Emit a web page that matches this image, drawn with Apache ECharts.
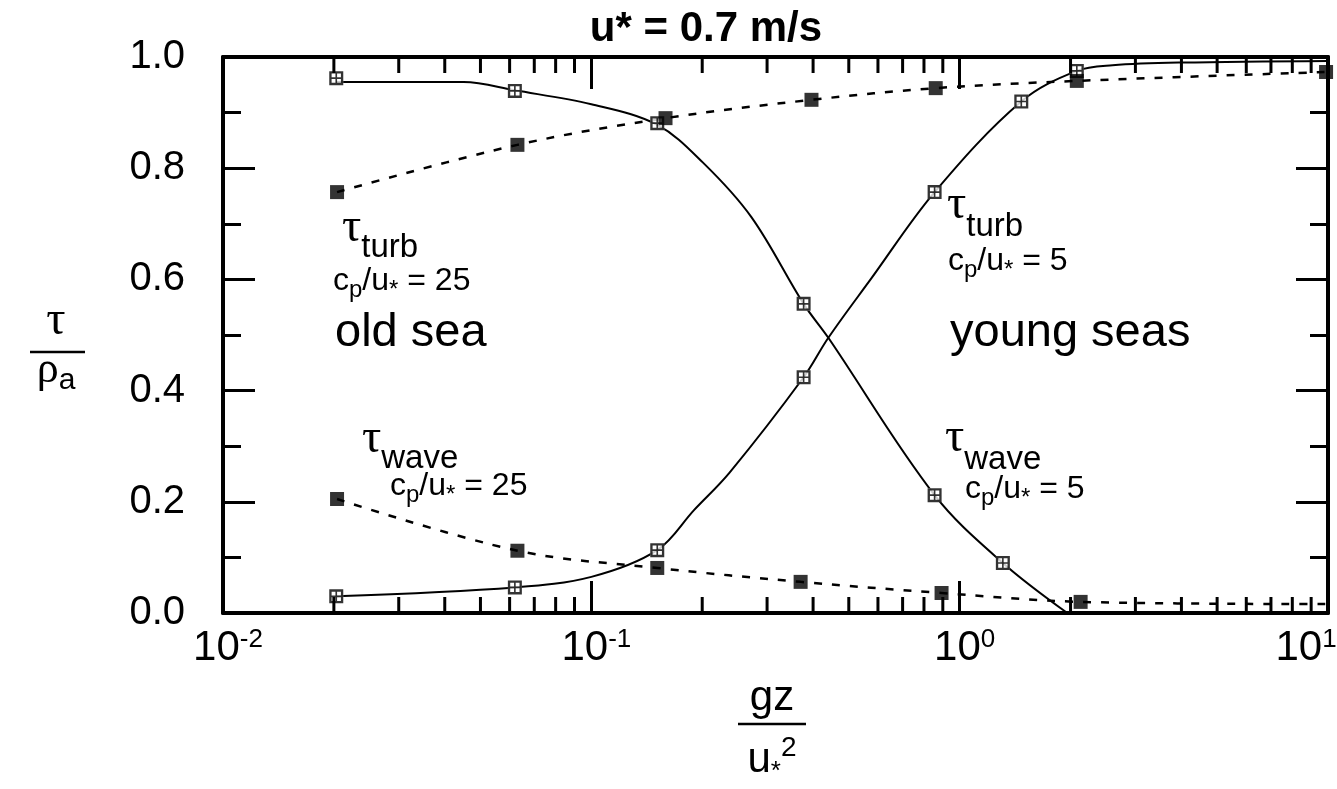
<!DOCTYPE html>
<html><head><meta charset="utf-8">
<script src="https://cdn.jsdelivr.net/npm/echarts@6/dist/echarts.min.js"></script>
<style>html,body{margin:0;padding:0;background:#fff}#c{width:1337px;height:789px}</style>
</head><body><div id="c"></div>
<script>
// ---------- data ----------
// c_p/u* = 5 (hollow crossed squares, solid lines)
const turb5X = [0.0203, 0.062, 0.151, 0.377, 0.855, 1.47, 2.08];
const turb5Y = [0.030, 0.046, 0.113, 0.424, 0.757, 0.920, 0.975];
const wave5X = [0.0203, 0.062, 0.151, 0.377, 0.855, 1.31];
const wave5Y = [0.962, 0.939, 0.881, 0.556, 0.212, 0.090];
// fitted solid curves
const turb5CurveX = [0.0203, 0.062, 0.1, 0.151, 0.19, 0.237, 0.377, 0.44, 0.573, 0.855, 1.47, 2.08, 2.6, 4, 10];
const turb5CurveY = [0.030, 0.046, 0.065, 0.113, 0.185, 0.252, 0.424, 0.495, 0.600, 0.757, 0.920, 0.975, 0.985, 0.990, 0.993];
const wave5CurveX = [0.0203, 0.045, 0.062, 0.1, 0.151, 0.201, 0.272, 0.377, 0.44, 0.855, 1.31, 1.96];
const wave5CurveY = [0.955, 0.955, 0.940, 0.915, 0.878, 0.810, 0.712, 0.556, 0.495, 0.212, 0.090, 0.0];
// c_p/u* = 25 (filled squares, dashed lines)
const turb25X = [0.0204, 0.063, 0.159, 0.396, 0.861, 2.08, 9.88];
const turb25Y = [0.757, 0.842, 0.890, 0.923, 0.944, 0.957, 0.973];
const wave25X = [0.0204, 0.063, 0.151, 0.370, 0.893, 2.13];
const wave25Y = [0.205, 0.112, 0.081, 0.056, 0.036, 0.020];
const wave25LineX = [0.0204, 0.063, 0.151, 0.370, 0.893, 2.13, 10];
const wave25LineY = [0.205, 0.112, 0.081, 0.056, 0.036, 0.020, 0.016];
// axis ticks
const xMinorTicks = [0.02,0.03,0.04,0.05,0.06,0.07,0.08,0.09,
                     0.2,0.3,0.4,0.5,0.6,0.7,0.8,0.9,
                     2,3,4,5,6,7,8,9];

const zip = (xs, ys) => xs.map((x, i) => [x, ys[i]]);
const FONT = '"Liberation Sans", Arial, Helvetica, sans-serif';
const SERIF = '"Liberation Serif", "DejaVu Serif", serif';
const HOLLOW = 'path://M0 0H12V12H0Z M2 2V5.3H5.3V2Z M6.7 2V5.3H10V2Z M2 6.7V10H5.3V6.7Z M6.7 6.7V10H10V6.7Z';

const chart = echarts.init(document.getElementById('c'), null, {renderer: 'canvas'});

// text runs placed on a common baseline (sub/superscripts via dy)
const mctx = document.createElement('canvas').getContext('2d');
function tw(t, size, fam, weight) { mctx.font = (weight || 'normal') + ' ' + size + 'px ' + fam; return mctx.measureText(t).width; }
function run(x, baseline, tokens, align) {
  const toks = tokens.map(k => ({t: k[0], size: k[1], dy: k[2] || 0, fam: k[3] || FONT, w: k[4] || 'normal'}));
  let total = 0; toks.forEach(k => { k.width = tw(k.t, k.size, k.fam, k.w); total += k.width; });
  let cx = align === 'center' ? x - total / 2 : x;
  const out = [];
  toks.forEach(k => {
    out.push({type: 'text', x: cx, y: baseline + k.dy - 0.35 * k.size, z: 50, silent: true,
      style: {text: k.t, fontSize: k.size, fontFamily: k.fam, fontWeight: k.w, fill: '#000', align: 'left', verticalAlign: 'middle'}});
    cx += k.width;
  });
  return out;
}
const TAU = 48, SUB = 33, M = 32, S = 24;
const tauSub = (word, dy) => [['τ', TAU, 0, SERIF], [word, SUB, dy]];
const cpRun = (n) => [['c', M, 0], ['p', S, 7], ['/u', M, 0], ['*', S, 7], [' = ' + n, M, 0]];

const graphics = [].concat(
  run(706, 44, [['u* = 0.7 m/s', 42, 0, FONT, 'bold']], 'center'),
  run(342, 245, tauSub('turb', 14)),
  run(333, 292, cpRun(25)),
  run(335, 349, [['old sea', 47]]),
  run(362, 456, tauSub('wave', 14)),
  run(390, 497, cpRun(25)),
  run(947, 222, tauSub('turb', 16)),
  run(948, 272, cpRun(5)),
  run(950, 349, [['young seas', 47]]),
  run(945, 455, tauSub('wave', 16)),
  run(965, 500, cpRun(5)),
  // y-axis title: tau / rho_a
  run(56, 338, [['τ', 48, 0, SERIF]], 'center'),
  [{type: 'line', z: 50, silent: true, shape: {x1: 30, y1: 352, x2: 85, y2: 352}, style: {stroke: '#000', lineWidth: 2.5}}],
  run(56, 386, [['ρ', 44, 0, SERIF], ['a', 30, 5]], 'center'),
  // x-axis title: gz / u*^2
  run(772, 713, [['gz', 42]], 'center'),
  [{type: 'line', z: 50, silent: true, shape: {x1: 738, y1: 724, x2: 806, y2: 724}, style: {stroke: '#000', lineWidth: 2.5}}],
  run(772, 775, [['u', 42], ['*', 26, 6], ['2', 28, -17]], 'center')
);

const xAxisBase = {
  type: 'log', logBase: 10, min: 0.01, max: 10,
  axisLine: {show: true, onZero: false, lineStyle: {color: '#000', width: 4}},
  axisTick: {show: true, inside: true, length: 32, lineStyle: {color: '#000', width: 3}},
  splitLine: {show: false}, minorTick: {show: false}
};
const yAxisBase = {
  type: 'value', min: 0, max: 1, interval: 0.2,
  axisLine: {show: true, onZero: false, lineStyle: {color: '#000', width: 4}},
  axisTick: {show: true, inside: true, length: 32, lineStyle: {color: '#000', width: 3}},
  minorTick: {show: true, splitNumber: 2, length: 18, lineStyle: {color: '#000', width: 3}},
  splitLine: {show: false}
};

const option = {
  backgroundColor: '#fff',
  animation: false,
  grid: {left: 223, right: 9, top: 57, bottom: 176, containLabel: false, outerBoundsMode: 'none'},
  xAxis: [
    Object.assign({}, xAxisBase, {position: 'bottom',
      axisLabel: {show: true, margin: 14, hideOverlap: false, formatter: v => {
          const e = Math.round(Math.log10(v));
          return e >= 1 ? '{bl|10}{pl|' + e + '}' : '{b|10}{p|' + e + '}';
        },
        rich: {
          b: {fontSize: 42, lineHeight: 42, padding: [10, 0, 0, 10], verticalAlign: 'bottom', fontFamily: FONT, color: '#000'},
          p: {fontSize: 26, lineHeight: 26, verticalAlign: 'top', fontFamily: FONT, color: '#000'},
          bl: {fontSize: 42, lineHeight: 42, padding: [10, 0, 0, 0], verticalAlign: 'bottom', fontFamily: FONT, color: '#000'},
          pl: {fontSize: 26, lineHeight: 26, padding: [0, 44, 0, 0], verticalAlign: 'top', fontFamily: FONT, color: '#000'}
        }}}),
    Object.assign({}, xAxisBase, {position: 'top', axisLabel: {show: false}})
  ],
  yAxis: [
    Object.assign({}, yAxisBase, {position: 'left',
      axisLabel: {show: true, margin: 38, fontSize: 40, fontFamily: FONT, color: '#000',
        formatter: v => v.toFixed(1)}}),
    Object.assign({}, yAxisBase, {position: 'right', axisLabel: {show: false}})
  ],
  graphic: graphics,
  series: [
    {type: 'line', name: 'turb5 curve', data: zip(turb5CurveX, turb5CurveY), smooth: 0.35, showSymbol: false,
     symbol: 'none', lineStyle: {color: '#000', width: 2}, z: 2, silent: true, clip: false},
    {type: 'line', name: 'wave5 curve', data: zip(wave5CurveX, wave5CurveY), smooth: 0.35, showSymbol: false,
     symbol: 'none', lineStyle: {color: '#000', width: 2}, z: 2, silent: true, clip: false},
    {type: 'line', name: 'turb25', data: zip(turb25X, turb25Y), smooth: 0.35, symbol: 'none',
     lineStyle: {color: '#000', width: 2.5, type: [8, 10]}, z: 2, silent: true, clip: false},
    {type: 'line', name: 'wave25', data: zip(wave25LineX, wave25LineY), smooth: 0.35, symbol: 'none',
     lineStyle: {color: '#000', width: 2.5, type: [8, 10]}, z: 2, silent: true, clip: false},
    {type: 'scatter', data: zip(turb5X, turb5Y).concat(zip(wave5X, wave5Y)), symbol: 'rect', symbolSize: 14,
     itemStyle: {color: '#fff'}, z: 3, silent: true, clip: false},
    {type: 'scatter', name: 'turb5', data: zip(turb5X, turb5Y), symbol: HOLLOW, symbolSize: 14,
     itemStyle: {color: '#000'}, z: 4, silent: true, clip: false},
    {type: 'scatter', name: 'wave5', data: zip(wave5X, wave5Y), symbol: HOLLOW, symbolSize: 14,
     itemStyle: {color: '#000'}, z: 4, silent: true, clip: false},
    {type: 'scatter', name: 'turb25 pts', data: zip(turb25X, turb25Y), symbol: 'rect', symbolSize: 14,
     itemStyle: {color: '#000'}, z: 5, silent: true, clip: false},
    {type: 'scatter', name: 'wave25 pts', data: zip(wave25X, wave25Y), symbol: 'rect', symbolSize: 14,
     itemStyle: {color: '#000'}, z: 5, silent: true, clip: false},
    {type: 'custom', name: 'minor ticks', data: xMinorTicks.map(v => [v, 0]), clip: false, silent: true, z: 6,
     renderItem: (params, api) => {
       const pb = api.coord([api.value(0), 0]);
       const pt = api.coord([api.value(0), 1]);
       return {type: 'group', children: [
         {type: 'line', shape: {x1: pb[0], y1: pb[1], x2: pb[0], y2: pb[1] - 16}, style: {stroke: '#000', lineWidth: 3}},
         {type: 'line', shape: {x1: pt[0], y1: pt[1], x2: pt[0], y2: pt[1] + 16}, style: {stroke: '#000', lineWidth: 3}}
       ]};
     }}
  ]
};
chart.setOption(option);
</script>
</body></html>
